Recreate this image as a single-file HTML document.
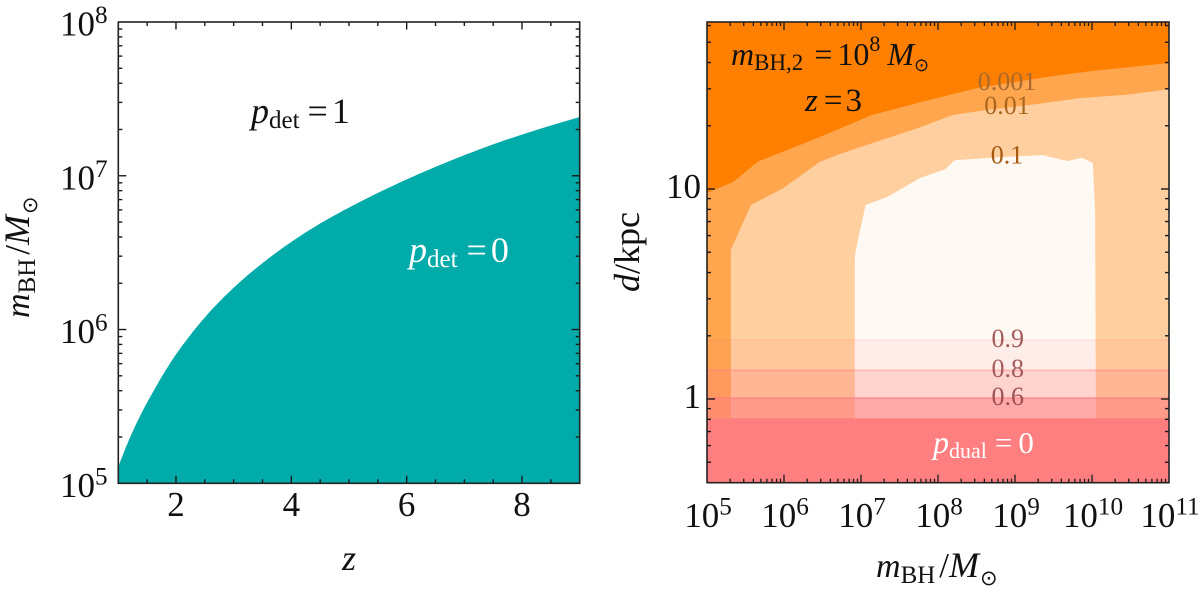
<!DOCTYPE html>
<html lang="en">
<head>
<meta charset="utf-8">
<title>Detection and dual probability</title>
<style>
html,body{margin:0;padding:0;background:#fff;width:1200px;height:590px;overflow:hidden}
svg{display:block;font-family:"Liberation Serif","DejaVu Serif",serif}
</style>
</head>
<body>
<svg id="fig" xmlns="http://www.w3.org/2000/svg" width="1200" height="590" viewBox="0 0 1200 590">
  <g id="left-panel"></g>
  <g id="right-panel"></g>

  <text x="251" y="123" font-size="36" fill="#111"><tspan font-style="italic">p</tspan><tspan font-size="25" dy="5">det</tspan><tspan dy="-5" dx="8">=</tspan><tspan dx="4">1</tspan></text>
  <text x="409" y="262" font-size="36" fill="#fff"><tspan font-style="italic">p</tspan><tspan font-size="25" dy="5">det</tspan><tspan dy="-5" dx="9">=</tspan><tspan dx="4">0</tspan></text>
  <text x="349" y="570" font-size="36" font-style="italic" text-anchor="middle" fill="#111">z</text>
  <text transform="translate(29,318) rotate(-90)" font-size="35" fill="#111"><tspan font-style="italic" font-size="34">m</tspan><tspan font-size="25" dy="6">BH</tspan><tspan dy="-6" dx="4">/</tspan><tspan font-style="italic" font-size="36">M</tspan><tspan font-size="21" dy="8" dx="1" font-family="DejaVu Sans">⊙</tspan></text>

  <text x="731" y="65" font-size="32" fill="#111"><tspan font-style="italic">m</tspan><tspan font-size="23" dy="5">BH,2</tspan><tspan dy="-5" dx="11">=</tspan><tspan dx="5">10</tspan><tspan font-size="22" dy="-14">8</tspan><tspan dy="14" dx="7" font-style="italic">M</tspan><tspan font-size="18" dy="6" font-family="DejaVu Sans">⊙</tspan></text>
  <text x="805" y="111" font-size="33" fill="#111"><tspan font-style="italic">z</tspan><tspan dx="6">=</tspan><tspan dx="3">3</tspan></text>
  <text x="933" y="453" font-size="31" fill="#fff"><tspan font-style="italic" font-size="32">p</tspan><tspan font-size="22" dy="5">dual</tspan><tspan dy="-5" dx="8">=</tspan><tspan dx="6">0</tspan></text>
  <text x="876" y="577" font-size="35" fill="#111"><tspan font-style="italic" font-size="34">m</tspan><tspan font-size="25" dy="6">BH</tspan><tspan dy="-6" dx="4">/</tspan><tspan font-style="italic" font-size="36">M</tspan><tspan font-size="21" dy="8" dx="1" font-family="DejaVu Sans">⊙</tspan></text>
  <text transform="translate(639,292) rotate(-90)" font-size="36" fill="#111"><tspan font-style="italic">d</tspan>/kpc</text>
</svg>
<script>
// ---- Left panel data ----
const detRedshift = [1, 1.27, 1.6, 1.95, 2.71, 3.51, 4.37, 5.31, 6.45, 7.62, 9];
const detLogMass = [5.106, 5.354, 5.593, 5.81, 6.165, 6.435, 6.66, 6.853, 7.05, 7.22, 7.382];
const leftXTicks = [2, 4, 6, 8];
const leftYTicks = [5, 6, 7, 8];

// ---- Right panel data ----
const rightXTicks = [5, 6, 7, 8, 9, 10, 11];
const rightYTicks = [1, 10];
const contourMass001 = [5, 5.34, 5.66, 6.47, 7.14, 7.77, 8.52, 9.49, 10.01, 11];
const contourDist001 = [9.57, 10.8, 13.5, 17.7, 22.5, 25.9, 30.3, 34.5, 36.5, 39.8];
const contourMass01 = [5.31, 5.31, 5.57, 5.99, 6.47, 6.73, 7.77, 8.19, 8.64, 9.29, 9.84, 10.45, 11];
const contourDist01 = [0.81, 5.13, 8.39, 10.1, 13.5, 14.7, 19.7, 22.5, 23.8, 25.4, 27.1, 28.1, 29.9];
const contourMass1 = [6.92, 6.92, 6.96, 7.06, 7.34, 7.77, 8.09, 8.22, 8.84, 9.36, 9.68, 9.87, 10.01, 10.04, 10.05];
const contourDist1 = [0.81, 4.74, 5.71, 8.39, 9.16, 11.3, 12.4, 13.7, 14.2, 14.5, 13.6, 14.1, 13.3, 7.94, 0.81];
const dualBandEdges = [1.91, 1.37, 1.01];
const dualBandOpacity = [0.09, 0.31, 0.65];
const dualZeroEdge = 0.81;
const contourLabelsText = ["0.001", "0.01", "0.1", "0.9", "0.8", "0.6"];
const contourLabelMass = [8.87, 8.87, 8.87, 8.88, 8.88, 8.88];
const contourLabelDist = [32.3, 24.8, 14.4, 1.93, 1.39, 1.02];

const NS = "http://www.w3.org/2000/svg";
const leftBox = {l:118.3, r:579.7, t:22, b:483.3};
const rightBox = {l:707, r:1169, t:22, b:482.7};
const lx = z => leftBox.l + (z - 1) / 8 * (leftBox.r - leftBox.l);
const ly = lm => leftBox.b - (lm - 5) / 3 * (leftBox.b - leftBox.t);
const rx = lm => rightBox.l + (lm - 5) / 6 * (rightBox.r - rightBox.l);
const ry = d => 399 - Math.log10(d) * 210;

function make(tag, attrs, parent) {
  const el = document.createElementNS(NS, tag);
  for (const k in attrs) el.setAttribute(k, attrs[k]);
  parent.appendChild(el);
  return el;
}
function linePath(xs, ys) {
  return xs.map((v, i) => (i ? "L" : "M") + v.toFixed(1) + " " + ys[i].toFixed(1)).join(" ");
}
// Smooth boundary: cubic Hermite through the read points in (log z, log m) space
function detectionCurve(zs, ms) {
  const u = zs.map(z => Math.log10(z));
  const n = u.length;
  const slope = u.map((_, i) => {
    const a = Math.max(i - 1, 0), b = Math.min(i + 1, n - 1);
    return (ms[b] - ms[a]) / (u[b] - u[a]);
  });
  const xs = [], ys = [];
  for (let i = 0; i < n - 1; i++) {
    const h = u[i + 1] - u[i];
    for (let s = 0; s < 16; s++) {
      const t = s / 16, t2 = t * t, t3 = t2 * t;
      const v = (2*t3 - 3*t2 + 1) * ms[i] + (t3 - 2*t2 + t) * h * slope[i] + (-2*t3 + 3*t2) * ms[i + 1] + (t3 - t2) * h * slope[i + 1];
      xs.push(lx(Math.pow(10, u[i] + t * h)));
      ys.push(ly(v));
    }
  }
  xs.push(lx(zs[n - 1]));
  ys.push(ly(ms[n - 1]));
  return linePath(xs, ys);
}
function tick(parent, x1, y1, x2, y2, w) {
  const t = make("line", {x1, y1, x2, y2, stroke: "#1a1a1a", "stroke-width": w}, parent);
  
  
}
function frame(parent, box) {
  const f = make("rect", {x: box.l, y: box.t, width: box.r - box.l, height: box.b - box.t, fill: "none", stroke: "#222", "stroke-width": 1.6}, parent);
  
  
}
function powerLabel(parent, x, y, anchor, base, exp, size) {
  const t = make("text", {x, y, "font-size": size, fill: "#111", "text-anchor": anchor}, parent);
  
  
  t.textContent = base;
  if (exp !== null) {
    const s = make("tspan", {"font-size": size * 0.72, dy: -12.5}, t);
    s.textContent = exp;
  }
}

// ---- Left panel ----
const L = document.getElementById("left-panel");
const curve = detectionCurve(detRedshift, detLogMass) + " L" + leftBox.r + " " + leftBox.b + " L" + leftBox.l + " " + leftBox.b + " Z";
const area = make("path", {d: curve, fill: "#00abaa"}, L);


for (let z = 1.5; z < 9; z += 0.5) {
  const major = leftXTicks.includes(z);
  const len = major ? 7.5 : 4;
  tick(L, lx(z), leftBox.b, lx(z), leftBox.b - len, 1.4);
  tick(L, lx(z), leftBox.t, lx(z), leftBox.t + len, 1.4);
}
for (let dec = 5; dec < 8; dec++) {
  for (let m = 1; m < 10; m++) {
    const v = dec + Math.log10(m);
    const len = m === 1 ? 8 : 4;
    if (v > 5) {
      tick(L, leftBox.l, ly(v), leftBox.l + len, ly(v), 1.4);
      tick(L, leftBox.r, ly(v), leftBox.r - len, ly(v), 1.4);
    }
  }
}
frame(L, leftBox);
leftXTicks.forEach(z => {
  const t = make("text", {x: lx(z), y: 516, "font-size": 35, fill: "#111", "text-anchor": "middle"}, L);
  
  
  t.textContent = z;
});
leftYTicks.forEach(e => powerLabel(L, 60, ly(e) + 13.5, "start", "10", e, 35));

// ---- Right panel ----
const R = document.getElementById("right-panel");
const box = rightBox;
const bg = make("rect", {x: box.l, y: box.t, width: box.r - box.l, height: box.b - box.t, fill: "#ff8000"}, R);



const c1 = make("path", {d: linePath(contourMass001.map(rx), contourDist001.map(ry)) + ` L${box.r} ${box.b} L${box.l} ${box.b} Z`, fill: "#ffa64f"}, R);



const c2 = make("path", {d: linePath(contourMass01.map(rx), contourDist01.map(ry)) + ` L${box.r} ${ry(contourDist01[contourDist01.length-1])} L${box.r} ${ry(contourDist01[0])} Z`, fill: "#ffcf9f"}, R);



const c3 = make("path", {d: linePath(contourMass1.map(rx), contourDist1.map(ry)) + " Z", fill: "#fff9f4"}, R);



dualBandEdges.forEach((d, i) => {
  const lower = i + 1 < dualBandEdges.length ? dualBandEdges[i + 1] : dualZeroEdge;
  const band = make("rect", {x: box.l, y: ry(d), width: box.r - box.l, height: ry(lower) - ry(d), fill: "#ff7f80", "fill-opacity": dualBandOpacity[i]}, R);
  
  
  const edge = make("line", {x1: box.l, x2: box.r, y1: ry(d), y2: ry(d), stroke: "#ff7f80", "stroke-width": 1.6, "stroke-opacity": 0.15 + i * 0.3}, R);
  
  
});
const zero = make("rect", {x: box.l, y: ry(dualZeroEdge), width: box.r - box.l, height: box.b - ry(dualZeroEdge), fill: "#ff7f80"}, R);



const labelColors = ["#a9692c", "#a9661f", "#a55a10", "#a55a5a", "#a55a5a", "#a05050"];
contourLabelsText.forEach((s, i) => {
  const t = make("text", {x: rx(contourLabelMass[i]) + 2, y: ry(contourLabelDist[i]) + 8, "font-size": 26, fill: labelColors[i], "text-anchor": "middle"}, R);
  
  
  t.textContent = s;
});

for (let dec = 5; dec < 11; dec++) {
  for (let m = 1; m < 10; m++) {
    const v = dec + Math.log10(m);
    const len = m === 1 ? 8 : 4;
    if (v > 5) {
      tick(R, rx(v), box.b, rx(v), box.b - len, 1.3);
      tick(R, rx(v), box.t, rx(v), box.t + len, 1.3);
    }
  }
}
[0.1, 1, 10].forEach(dec => {
  for (let m = 1; m < 10; m++) {
    const d = dec * m;
    if (d < 0.41 || d > 62) continue;
    const len = rightYTicks.includes(d) ? 8 : 4;
    tick(R, box.l, ry(d), box.l + len, ry(d), 1.4);
    tick(R, box.r, ry(d), box.r - len, ry(d), 1.4);
  }
});
frame(R, box);
rightXTicks.forEach(e => powerLabel(R, rx(e) + 1, 527, "middle", "10", e, 35));
rightYTicks.forEach(d => powerLabel(R, 701, ry(d) + 9, "end", String(d), null, 35));
</script>
</body>
</html>
